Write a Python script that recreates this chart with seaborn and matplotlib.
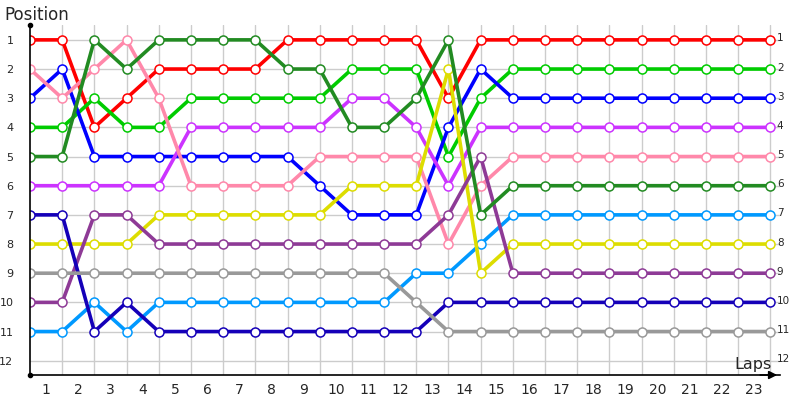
import pandas as pd
import numpy as np
import matplotlib
matplotlib.use("Agg")
import matplotlib.pyplot as plt
import seaborn as sns

# -------------------------------------
# Data: position of each driver at each lap mark (0..23)
# -------------------------------------

laps = list(range(0, 24))

red = [1, 1, 4, 3, 2, 2, 2, 2, 1, 1, 1, 1, 1, 3, 1, 1, 1, 1, 1, 1, 1, 1, 1, 1]
light_green = [4, 4, 3, 4, 4, 3, 3, 3, 3, 3, 2, 2, 2, 5, 3, 2, 2, 2, 2, 2, 2, 2, 2, 2]
blue = [3, 2, 5, 5, 5, 5, 5, 5, 5, 6, 7, 7, 7, 4, 2, 3, 3, 3, 3, 3, 3, 3, 3, 3]
violet = [6, 6, 6, 6, 6, 4, 4, 4, 4, 4, 3, 3, 4, 6, 4, 4, 4, 4, 4, 4, 4, 4, 4, 4]
pink = [2, 3, 2, 1, 3, 6, 6, 6, 6, 5, 5, 5, 5, 8, 6, 5, 5, 5, 5, 5, 5, 5, 5, 5]
light_blue = [11, 11, 10, 11, 10, 10, 10, 10, 10, 10, 10, 10, 9, 9, 8, 7, 7, 7, 7, 7, 7, 7, 7, 7]
yellow = [8, 8, 8, 8, 7, 7, 7, 7, 7, 7, 6, 6, 6, 2, 9, 8, 8, 8, 8, 8, 8, 8, 8, 8]
dark_purple = [10, 10, 7, 7, 8, 8, 8, 8, 8, 8, 8, 8, 8, 7, 5, 9, 9, 9, 9, 9, 9, 9, 9, 9]
navy = [7, 7, 11, 10, 11, 11, 11, 11, 11, 11, 11, 11, 11, 10, 10, 10, 10, 10, 10, 10, 10, 10, 10, 10]
gray = [9, 9, 9, 9, 9, 9, 9, 9, 9, 9, 9, 9, 10, 11, 11, 11, 11, 11, 11, 11, 11, 11, 11, 11]
dark_green = [5, 5, 1, 2, 1, 1, 1, 1, 2, 2, 4, 4, 3, 1, 7, 6, 6, 6, 6, 6, 6, 6, 6, 6]

series = {
    "red": red,
    "light_green": light_green,
    "blue": blue,
    "violet": violet,
    "pink": pink,
    "light_blue": light_blue,
    "yellow": yellow,
    "dark_purple": dark_purple,
    "navy": navy,
    "gray": gray,
    "dark_green": dark_green,
}

colors = {
    "red": "#ff0000",
    "light_green": "#00cc00",
    "blue": "#0000ff",
    "violet": "#cc33ff",
    "pink": "#ff88aa",
    "light_blue": "#0099ff",
    "yellow": "#dddd00",
    "dark_purple": "#8e3a96",
    "navy": "#1500b8",
    "gray": "#999999",
    "dark_green": "#228b22",
}

positions = list(range(1, 13))
lap_labels = [str(i) for i in range(1, 24)]

# long format table
rows = []
for name, vals in series.items():
    for lap, pos in zip(laps, vals):
        rows.append({"driver": name, "lap": lap, "pos": pos})
df = pd.DataFrame(rows)

# -------------------------------------
# Plot
# -------------------------------------

sns.set_style("white")
plt.rcParams["font.family"] = ["DejaVu Sans"]

fig = plt.figure(figsize=(8, 4), dpi=100)
ax = fig.add_axes([0.0375, 0.0625, 0.9375, 0.875])

sns.lineplot(
    data=df,
    x="lap",
    y="pos",
    hue="driver",
    hue_order=list(series.keys()),
    palette=colors,
    estimator=None,
    sort=False,
    linewidth=2.6,
    marker="o",
    markersize=6.5,
    markerfacecolor="white",
    markeredgewidth=1.1,
    legend=False,
    ax=ax,
)

for line in ax.lines:
    line.set_markeredgecolor(line.get_color())

ax.set_xlim(0, 23.3)
ax.set_ylim(12.49, 0.49)

# lap labels sit between the lap marks
ax.set_xticks([i + 0.5 for i in range(len(lap_labels))])
ax.set_xticklabels(lap_labels, fontsize=10)
ax.set_xticks(laps[1:], minor=True)
ax.set_yticks(positions)
ax.set_yticklabels([str(p) for p in positions], fontsize=8)
ax.tick_params(axis="both", which="both", length=0)
ax.tick_params(axis="x", pad=6)
ax.tick_params(axis="y", pad=12)

ax.grid(False)
ax.xaxis.grid(True, which="minor", color="#cccccc", linewidth=1)
ax.yaxis.grid(True, which="major", color="#cccccc", linewidth=1)
ax.set_axisbelow(True)

ax.set_xlabel("")
ax.set_ylabel("")

for side in ["top", "right"]:
    ax.spines[side].set_visible(False)
for side in ["left", "bottom"]:
    ax.spines[side].set_color("black")
    ax.spines[side].set_linewidth(1.2)

# axis end decorations
ax.plot(0, 1, "o", color="black", markersize=3, transform=ax.transAxes, clip_on=False)
ax.plot(0, 0, "o", color="black", markersize=3, transform=ax.transAxes, clip_on=False)
ax.annotate(
    "",
    xy=(1.0, 0), xycoords="axes fraction",
    xytext=(0.97, 0), textcoords="axes fraction",
    arrowprops=dict(arrowstyle="-|>", color="black", lw=1.2, mutation_scale=12),
)

# position labels on the right side
for p in positions:
    ax.text(23.2, p - 0.05, str(p), fontsize=7.5, ha="left", va="center", clip_on=False)

fig.text(0.005, 0.962, "Position", fontsize=12, ha="left", va="center")
ax.text(23.05, 12.3, "Laps", fontsize=11.5, ha="right", va="baseline")

plt.savefig("out.png", dpi=100)
